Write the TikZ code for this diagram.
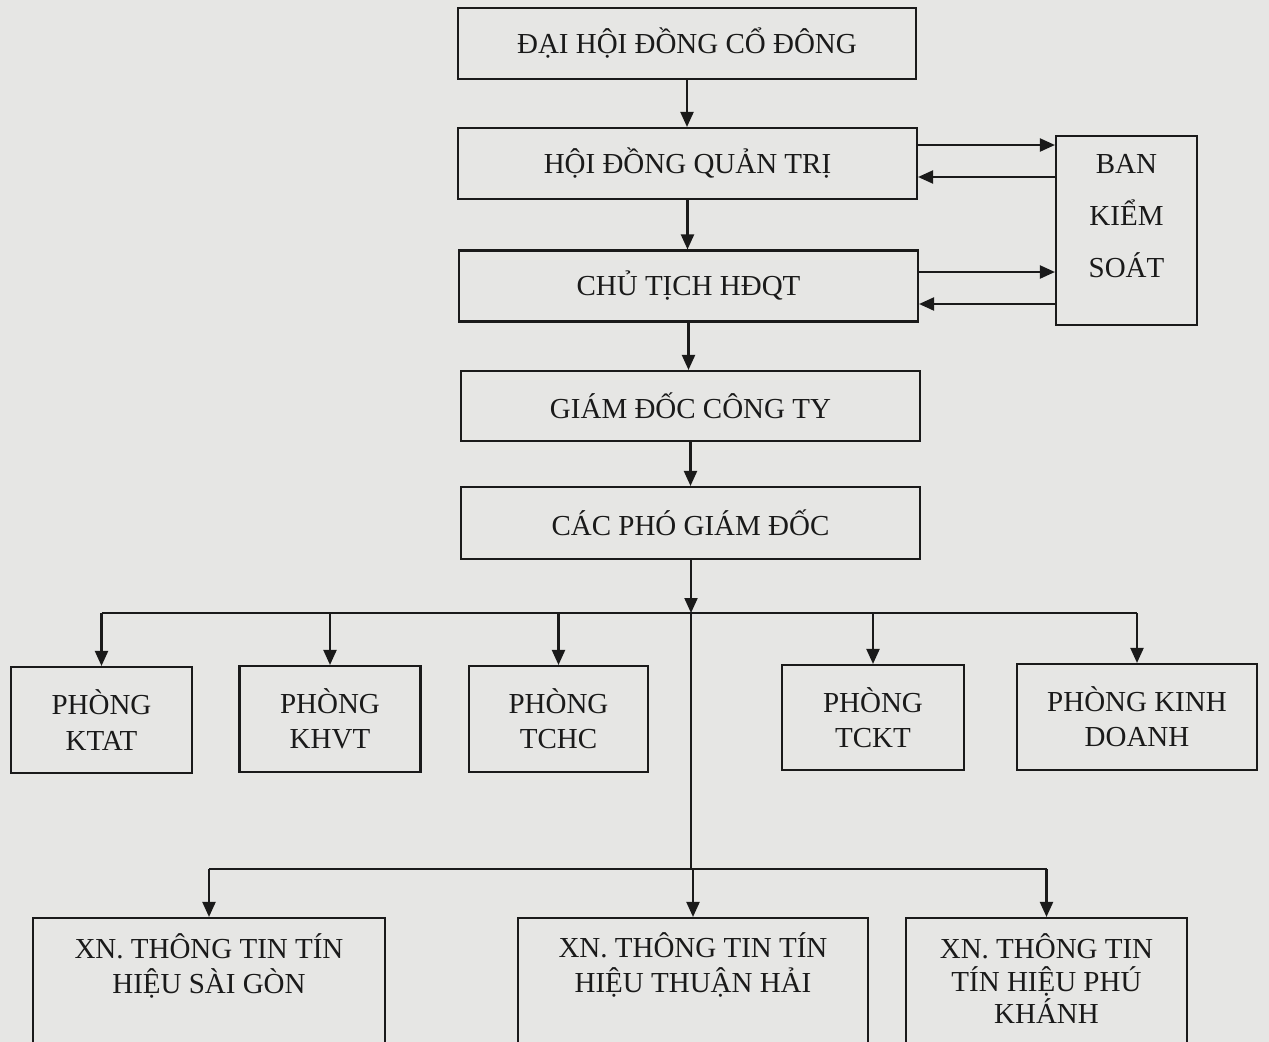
\documentclass[tikz,border=0pt]{standalone}
\usepackage{fontspec}
\setmainfont{Liberation Serif}
\usetikzlibrary{arrows.meta}
\definecolor{paper}{HTML}{E6E6E4}
\definecolor{ink}{HTML}{1A1A1A}
\begin{document}
\begin{tikzpicture}[x=0.02cm,y=-0.02cm,
  wh/.style 2 args={minimum width={#1*0.02cm},minimum height={#2*0.02cm}},
  box/.style={draw=ink,line width=1.2pt,text=ink,align=center,inner sep=0pt,
    font=\fontsize{16.5}{20}\selectfont},
  lbl/.style={text=ink,align=center,inner sep=0pt,font=\fontsize{16.5}{20}\selectfont},
  arr/.style={draw=ink,line width=1.2pt,-{Triangle[length=0.3cm,width=0.26cm]}},
  ln/.style={draw=ink,line width=1.2pt}]
\useasboundingbox[fill=paper] (0,0) rectangle (1269,1042);
\clip (0,0) rectangle (1269,1042);

% top chain
\node[box,wh={458}{71}] (dhd) at (687,43.5) {ĐẠI HỘI ĐỒNG CỔ ĐÔNG};
\node[box,wh={459}{71}] (hdqt) at (687.5,163.5) {HỘI ĐỒNG QUẢN TRỊ};
\node[box,wh={459}{71}] (ct) at (688.5,286) {CHỦ TỊCH HĐQT};
\node[box,wh={459}{70}] (gd) at (690.5,406) {GIÁM ĐỐC CÔNG TY};
\node[box,wh={459}{72}] (cpgd) at (690.5,523) {CÁC PHÓ GIÁM ĐỐC};

% ban kiem soat
\node[box,wh={141}{189}] (bks) at (1126.5,230.5) {};
\node[lbl,font=\fontsize{16.5}{29.5}\selectfont] (bkst) at (1126.5,216) {BAN\\KIỂM\\SOÁT};

% phong
\node[box,wh={181}{106}] (ktat) at (101.5,720) {PHÒNG\\KTAT};
\node[box,wh={181}{106}] (khvt) at (330,719) {PHÒNG\\KHVT};
\node[box,wh={179}{106}] (tchc) at (558.5,719) {PHÒNG\\TCHC};
\node[box,wh={182}{105}] (tckt) at (873,717.5) {PHÒNG\\TCKT};
\node[box,wh={240}{106}] (kd) at (1137,717) {PHÒNG KINH\\DOANH};

% xi nghiep (boxes run past the bottom edge)
\node[box,wh={352}{160}] (xnsg) at (209,998) {};
\node[box,wh={350}{160}] (xnth) at (693,998) {};
\node[box,wh={281}{160}] (xnpk) at (1046.5,998) {};
\node[lbl] (xnsgt) at (209,966) {XN. THÔNG TIN TÍN\\HIỆU SÀI GÒN};
\node[lbl] (xntht) at (693,965) {XN. THÔNG TIN TÍN\\HIỆU THUẬN HẢI};
\node[lbl,font=\fontsize{16.5}{18.5}\selectfont] (xnpkt) at (1046.5,979) {XN. THÔNG TIN\\TÍN HIỆU PHÚ\\KHÁNH};

% helper coordinates
\coordinate (r1) at (1056,145);
\coordinate (r2) at (1056,177);
\coordinate (r3) at (1056,272);
\coordinate (r4) at (1056,304);
\coordinate (b1) at (691,613);
\coordinate (b2) at (691,869);

% vertical chain
\draw[arr] (dhd.south) -- (dhd.south |- hdqt.north);
\draw[arr] (hdqt.south) -- (hdqt.south |- ct.north);
\draw[arr] (ct.south) -- (ct.south |- gd.north);
\draw[arr] (gd.south) -- (gd.south |- cpgd.north);

% HDQT / CT <-> BKS
\draw[arr] (hdqt.east |- r1) -- (bks.west |- r1);
\draw[arr] (bks.west |- r2) -- (hdqt.east |- r2);
\draw[arr] (ct.east |- r3) -- (bks.west |- r3);
\draw[arr] (bks.west |- r4) -- (ct.east |- r4);

% to departments
\draw[arr] (cpgd.south -| b1) -- (b1);
\draw[ln] (ktat.north |- b1) -- (kd.north |- b1);
\foreach \n in {ktat,khvt,tchc,tckt,kd} \draw[arr] (\n.north |- b1) -- (\n.north);

% to enterprises
\draw[ln] (b1) -- (b2);
\draw[ln] (xnsg.north |- b2) -- (xnpk.north |- b2);
\foreach \n in {xnsg,xnth,xnpk} \draw[arr] (\n.north |- b2) -- (\n.north);
\end{tikzpicture}
\end{document}
